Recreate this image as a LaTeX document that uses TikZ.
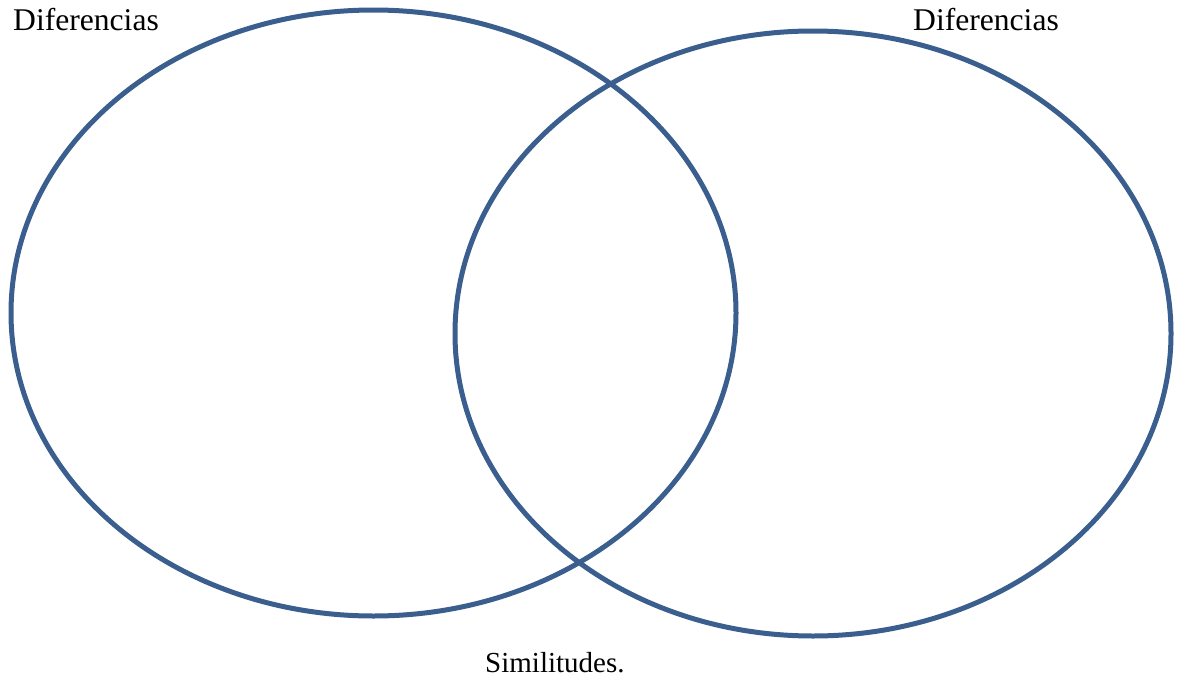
\documentclass[tikz,border=0pt]{standalone}
\usepackage{fontspec}
\setmainfont{Liberation Serif}
\usetikzlibrary{shapes.geometric}
\definecolor{vennblue}{HTML}{3A5E8E}
\tikzset{
  venn/.style={ellipse, draw=vennblue, line width=5pt, inner sep=0pt},
  lbl/.style={anchor=base west, inner sep=0pt, font=\fontsize{31.6}{36}\selectfont}
}
\begin{document}
\begin{tikzpicture}[x=1pt,y=-1pt]
\useasboundingbox (0,0) rectangle (1178,680);
\node[venn, minimum width=725pt, minimum height=606pt] (left) at (373.5,313) {};
\node[venn, minimum width=716pt, minimum height=605pt] (right) at (813,333.5) {};
\node[lbl] (difL) at (13,30) {Diferencias};
\node[lbl] (difR) at (913,30) {Diferencias};
\node[lbl, font=\fontsize{29}{34}\selectfont] (sim) at (485,672) {Similitudes.};
\end{tikzpicture}
\end{document}
